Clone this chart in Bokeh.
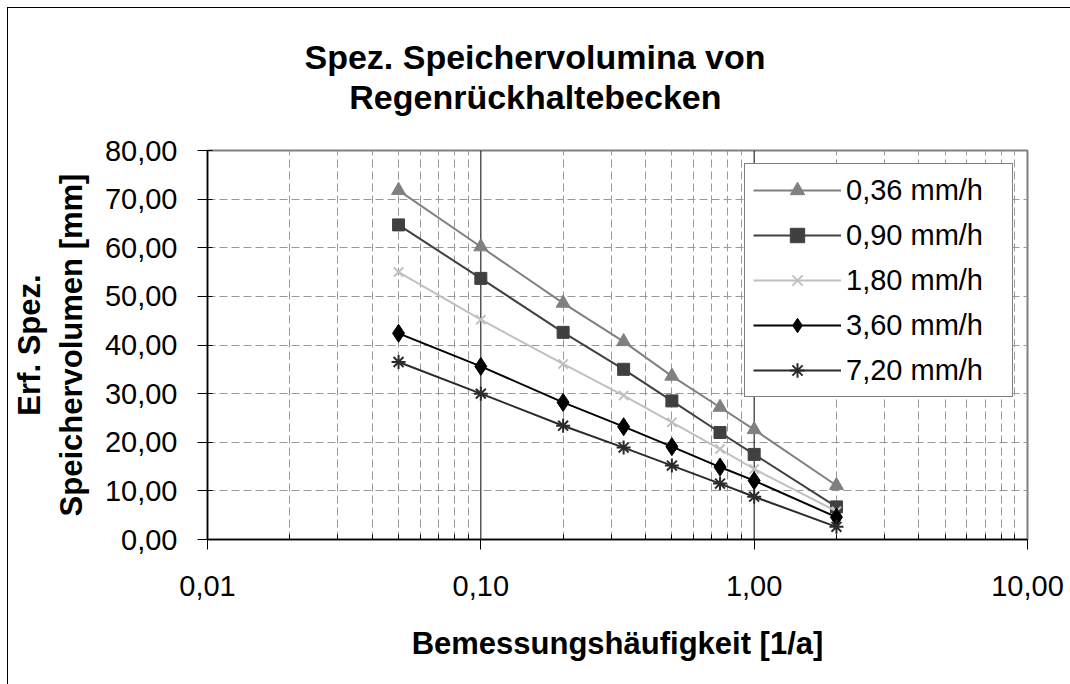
from bokeh.plotting import figure
from bokeh.models import FixedTicker, CustomJSTickFormatter, Span, Title
from bokeh.embed import file_html
from bokeh.resources import INLINE

# ---------------- data ----------------
freq = [0.05, 0.1, 0.2, 0.333, 0.5, 0.75, 1.0, 2.0]   # Bemessungshäufigkeit [1/a]

s_036 = [71.8, 60.2, 48.6, 40.7, 33.6, 27.2, 22.6, 11.1]
s_090 = [64.7, 53.7, 42.6, 35.0, 28.5, 22.0, 17.5, 6.7]
s_180 = [55.0, 45.2, 36.1, 29.6, 24.1, 18.6, 14.5, 5.8]
s_360 = [42.4, 35.6, 28.2, 23.2, 19.1, 14.9, 12.1, 4.6]
s_720 = [36.5, 30.0, 23.4, 18.9, 15.2, 11.5, 8.8, 2.6]

series_names = ["0,36 mm/h", "0,90 mm/h", "1,80 mm/h", "3,60 mm/h", "7,20 mm/h"]
series_values = [s_036, s_090, s_180, s_360, s_720]

x_ticks = [0.01, 0.1, 1.0, 10.0]
x_tick_labels = ["0,01", "0,10", "1,00", "10,00"]
y_ticks = [0, 10, 20, 30, 40, 50, 60, 70, 80]
y_tick_labels = ["0,00", "10,00", "20,00", "30,00", "40,00", "50,00", "60,00", "70,00", "80,00"]

title_lines = ["Spez. Speichervolumina von", "Regenrückhaltebecken"]
x_title = "Bemessungshäufigkeit [1/a]"
y_title_lines = ["Erf. Spez.", "Speichervolumen [mm]"]

# ---------------- styles ----------------
FONT = "Liberation Sans"
colors = ["#808080", "#404040", "#C0C0C0", "#000000", "#2b2b2b"]
markers = ["triangle", "square", "x", "diamond", "asterisk"]
msizes = [14, 12, 13, 18, 14]

W, H = 1062, 676
p = figure(width=W, height=H, x_axis_type="log",
           x_range=(x_ticks[0], x_ticks[-1]), y_range=(y_ticks[0], y_ticks[-1]),
           output_backend="svg", toolbar_location=None,
           min_border_left=197, min_border_right=43,
           min_border_top=142, min_border_bottom=145)
p.title.visible = False
p.styles = {"position": "relative", "left": "8px", "top": "8px",
            "outline": "1px solid black"}
p.background_fill_color = "white"
p.border_fill_color = "white"
p.outline_line_color = "#808080"
p.outline_line_width = 2

# tickers / formatters
fmt_code = """
const i = tv.findIndex(t => Math.abs(t - tick) <= 1e-9 * Math.max(1, Math.abs(t)));
return i >= 0 ? tl[i] : '';
"""
x_minor = [m * 10 ** e for e in (-2, -1, 0) for m in range(2, 10)]
p.xaxis.ticker = FixedTicker(ticks=x_ticks, minor_ticks=x_minor)
p.xaxis.formatter = CustomJSTickFormatter(args=dict(tv=x_ticks, tl=x_tick_labels), code=fmt_code)
p.yaxis.ticker = FixedTicker(ticks=y_ticks)
p.yaxis.formatter = CustomJSTickFormatter(args=dict(tv=y_ticks, tl=y_tick_labels), code=fmt_code)

for ax in (p.xaxis[0], p.yaxis[0]):
    ax.axis_line_color = "black"
    ax.axis_line_width = 1.5
    ax.major_tick_line_color = "black"
    ax.major_label_text_font = FONT
    ax.major_label_text_font_size = "29px"
    ax.major_label_text_color = "black"
    ax.axis_label_text_font = FONT
    ax.axis_label_text_font_size = "31px"
    ax.axis_label_text_font_style = "bold"
    ax.axis_label_text_color = "black"

p.xaxis.major_tick_out = 10
p.xaxis.major_tick_in = 0
p.xaxis.minor_tick_in = 5
p.xaxis.minor_tick_out = 0
p.xaxis.minor_tick_line_color = "black"
p.xaxis.major_label_standoff = 26
p.xaxis.axis_label = x_title
p.xaxis.axis_label_standoff = 27

p.yaxis.major_tick_out = 10
p.yaxis.major_tick_in = 5
p.yaxis.minor_tick_line_color = None
p.yaxis.major_label_standoff = 20
p.yaxis.axis_label = "\n".join(y_title_lines)
p.yaxis.axis_label_standoff = 13

# grids
p.ygrid.grid_line_color = "#999999"
p.ygrid.grid_line_dash = "8 4"
p.ygrid.grid_line_width = 1
p.xgrid.grid_line_color = None
p.xgrid.minor_grid_line_color = "#999999"
p.xgrid.minor_grid_line_dash = "8 4"
p.xgrid.minor_grid_line_width = 1
for v in x_ticks[1:-1]:
    p.add_layout(Span(location=v, dimension="height", line_color="black",
                      line_width=1, level="underlay"))

# series
for name, vals, col, mk, ms in zip(series_names, series_values, colors, markers, msizes):
    p.line(freq, vals, line_color=col, line_width=2, legend_label=name)
    if mk in ("x", "asterisk"):
        p.scatter(freq, vals, marker=mk, size=ms, line_color=col, line_width=2,
                  fill_color=col, legend_label=name)
    else:
        p.scatter(freq, vals, marker=mk, size=ms, line_color=col,
                  fill_color=col, legend_label=name)

lg = p.legend[0]
lg.location = (537, 142)
lg.border_line_color = "black"
lg.border_line_width = 1
lg.background_fill_color = "white"
lg.background_fill_alpha = 1
lg.label_text_font = FONT
lg.label_text_font_size = "29px"
lg.label_text_color = "black"
lg.padding = 8
lg.spacing = 9
lg.label_height = 36
lg.glyph_height = 36
lg.glyph_width = 88
lg.label_standoff = 5
lg.label_width = 158
lg.margin = 0

# main title: two lines, centred on the chart area (not the plot frame)
spacer = Title(text=" ", text_font_size="1px", standoff=32, text_line_height=1.0)
t2 = Title(text=title_lines[1], align="right", offset=306, standoff=0,
           text_font=FONT, text_font_size="34px", text_font_style="bold",
           text_color="black", vertical_align="bottom", text_line_height=1.15)
t1 = Title(text=title_lines[0], align="right", offset=262, standoff=0,
           text_font=FONT, text_font_size="34px", text_font_style="bold",
           text_color="black", vertical_align="bottom", text_line_height=1.0)
p.add_layout(spacer, "above")
p.add_layout(t2, "above")
p.add_layout(t1, "above")

open("out.html", "w").write(file_html(p, INLINE))
